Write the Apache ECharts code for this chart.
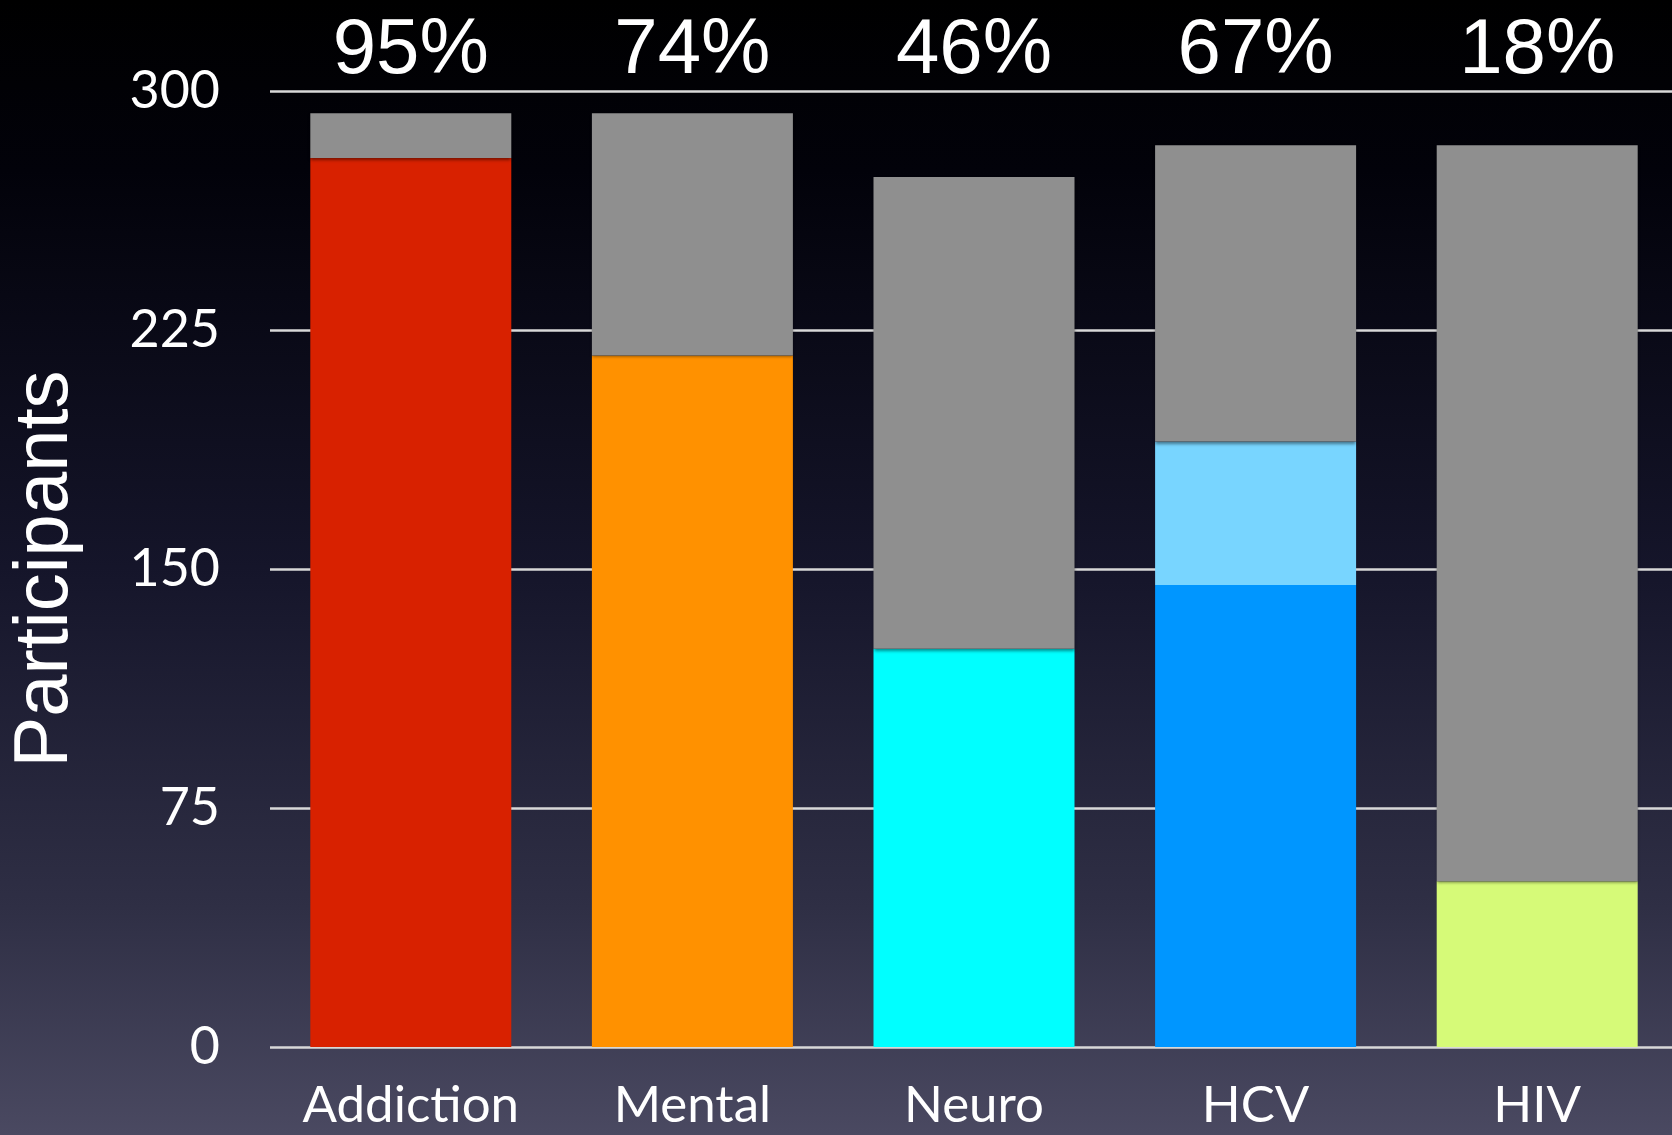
<!DOCTYPE html>
<html>
<head>
<meta charset="utf-8">
<title>Participants by screening area</title>
<script src="https://cdn.jsdelivr.net/npm/echarts@6/dist/echarts.min.js"></script>
<style>
  html, body { margin: 0; padding: 0; width: 100%; height: 100%; background: #000; }
  #chart { width: 1672px; height: 1135px; }
</style>
</head>
<body>
<div id="chart"></div>
<script>
// Screening areas along the x axis
const categories = ['Addiction', 'Mental', 'Neuro', 'HCV', 'HIV'];
// Participants screened in each area (full bar height)
const totals = [293, 293, 273, 283, 283];
// Participants with a positive finding (solid coloured part)
const positives = [279, 217, 125, 145, 52];
// Additional positives shown as a lighter band (HCV only)
const extraPositives = [0, 0, 0, 45, 0];
// Y axis ticks
const yTicks = [0, 75, 150, 225, 300];

// Colour of the positive segment in each area
const positiveColors = ['#d82100', '#ff9100', '#00ffff', '#0096ff', '#d6fa78'];
const extraColor = '#78d5ff';
const restColor = '#8f8f8f';

// Share of positives, printed above each bar
const percentLabels = totals.map((t, i) =>
  Math.round((positives[i] + extraPositives[i]) / t * 100) + '%');
// Remaining participants stacked on top in grey
const remainder = totals.map((t, i) => t - positives[i] - extraPositives[i]);

const humanist = 'Lato, "Open Sans", sans-serif';
const arial = '"Liberation Sans", Arial, sans-serif';

const chart = echarts.init(document.getElementById('chart'), null, { renderer: 'canvas' });

chart.setOption({
  animation: false,
  backgroundColor: {
    type: 'linear', x: 0, y: 0, x2: 0, y2: 1,
    colorStops: [
      { offset: 0, color: '#000000' },
      { offset: 0.15, color: '#02020a' },
      { offset: 0.5, color: '#15152a' },
      { offset: 0.8, color: '#2f2f45' },
      { offset: 1, color: '#4a4961' }
    ]
  },
  grid: {
    left: 270, top: 91, width: 1408, bottom: 88,
    containLabel: false,
    outerBoundsMode: 'none'
  },
  xAxis: [
    {
      type: 'category',
      data: categories,
      position: 'bottom',
      axisLine: { show: false },
      axisTick: { show: false },
      axisLabel: {
        interval: 0,
        color: '#ffffff',
        fontFamily: humanist,
        fontSize: 51,
        margin: 33
      }
    },
    {
      type: 'category',
      data: percentLabels,
      position: 'top',
      axisLine: { show: false },
      axisTick: { show: false },
      axisLabel: {
        interval: 0,
        color: '#ffffff',
        fontFamily: arial,
        fontSize: 78,
        margin: 1
      }
    }
  ],
  yAxis: {
    type: 'value',
    min: yTicks[0],
    max: yTicks[yTicks.length - 1],
    interval: yTicks[1] - yTicks[0],
    name: 'Participants',
    nameLocation: 'middle',
    nameRotate: 90,
    nameGap: 186,
    nameTextStyle: { color: '#ffffff', fontFamily: arial, fontSize: 76 },
    axisLine: { show: false },
    axisTick: { show: false },
    axisLabel: {
      color: '#ffffff',
      fontFamily: humanist,
      fontSize: 52,
      margin: 50
    },
    splitLine: { show: true, lineStyle: { color: '#d8d8d8', width: 2.5 } }
  },
  series: [
    {
      name: 'Positive',
      type: 'bar',
      stack: 'total',
      barWidth: 201,
      data: positives.map((v, i) => ({ value: v, itemStyle: { color: positiveColors[i] } }))
    },
    {
      name: 'Additional',
      type: 'bar',
      stack: 'total',
      barWidth: 201,
      itemStyle: { color: extraColor },
      data: extraPositives
    },
    {
      name: 'Other',
      type: 'bar',
      stack: 'total',
      barWidth: 201,
      itemStyle: {
        color: restColor,
        shadowColor: 'rgba(0,0,0,0.45)',
        shadowBlur: 3,
        shadowOffsetY: 2
      },
      data: remainder
    }
  ]
});
</script>
</body>
</html>
